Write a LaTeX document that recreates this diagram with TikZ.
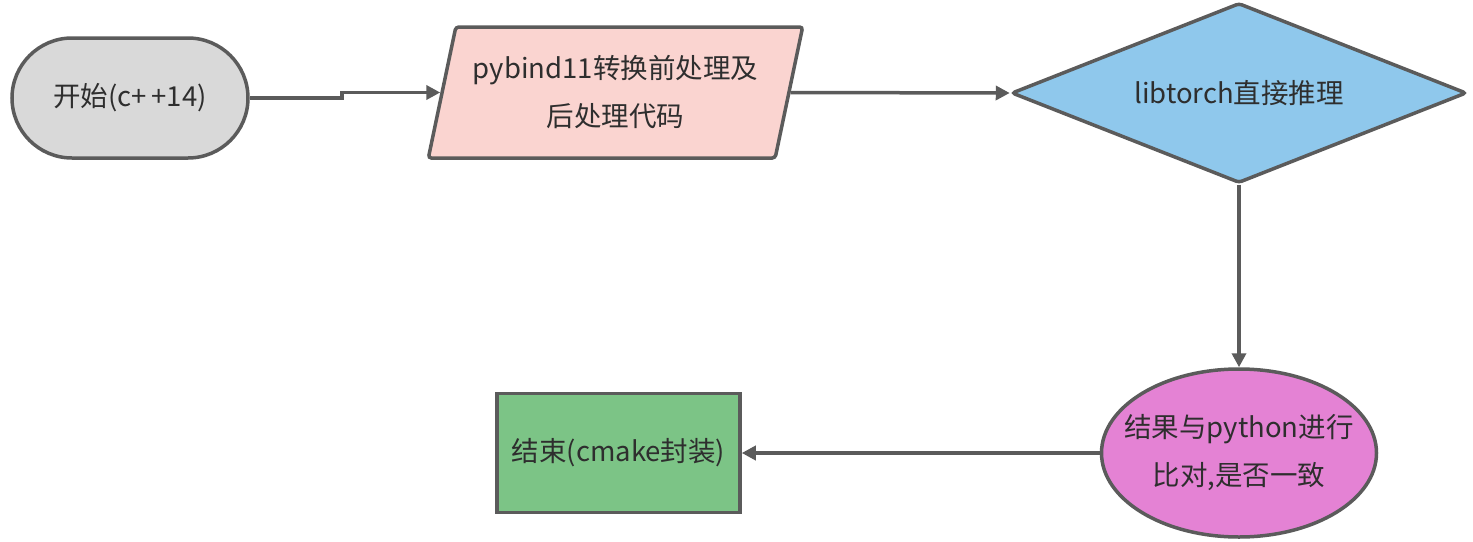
\documentclass[tikz,border=0pt]{standalone}
\usepackage{fontspec}
\setmainfont{Noto Sans CJK SC}
\usetikzlibrary{shapes.geometric,arrows.meta}
\definecolor{strokec}{HTML}{5B5B5B}
\definecolor{textc}{HTML}{2E2E2E}
\definecolor{startc}{HTML}{D9D9D9}
\definecolor{parac}{HTML}{FAD4D0}
\definecolor{diac}{HTML}{8FC8EC}
\definecolor{ellc}{HTML}{E482D4}
\definecolor{endc}{HTML}{7CC486}
\begin{document}
\begin{tikzpicture}[x=1pt,y=-1pt,
  box/.style={draw=strokec, line width=3.5pt, text=textc, inner sep=2pt,
    font=\fontsize{27.5}{48}\selectfont},
  txt/.style={text=textc, inner sep=0pt, align=center,
    font=\fontsize{27.5}{48}\selectfont},
  arr/.style={draw=strokec, line width=3.5pt,
    -{Triangle[length=14pt,width=14pt]}}]
\useasboundingbox (0,0) rectangle (1473,541);

\node[box, rounded corners=60pt, fill=startc,
      minimum width=236pt, minimum height=120pt] (start) at (130,98) {开始(c+\,+14)};

\node[box, trapezium, trapezium left angle=72.2, trapezium right angle=107.8,
      trapezium stretches=true, minimum width=375pt, minimum height=131pt,
      rounded corners=3pt, fill=parac, align=center] (pre) at (615.5,92.5)
      {pybind11转换前处理及\\后处理代码};

\node[box, diamond, aspect=2.528, minimum width=455pt, minimum height=180pt, inner sep=0pt,
      rounded corners=3pt, fill=diac] (infer) at (1239,93) {};
\node[txt] (infertext) at (infer) {libtorch直接推理};

\node[box, ellipse, minimum width=275pt, minimum height=168pt, inner sep=0pt,
      fill=ellc] (cmp) at (1239,453) {};
\node[txt] (cmptext) at (cmp) {结果与python进行\\比对,是否一致};

\node[box, fill=endc, minimum width=243pt, minimum height=119pt] (end)
      at (618.5,453) {结束(cmake封装)};

\draw[arr] (start.east) -- ++(92,0) |- (pre.west);
\draw[arr] (pre.east) -- (infer.west);
\draw[arr] (infer.south) -- (cmp.north);
\draw[arr] (cmp.west) -- (end.east);
\end{tikzpicture}
\end{document}
